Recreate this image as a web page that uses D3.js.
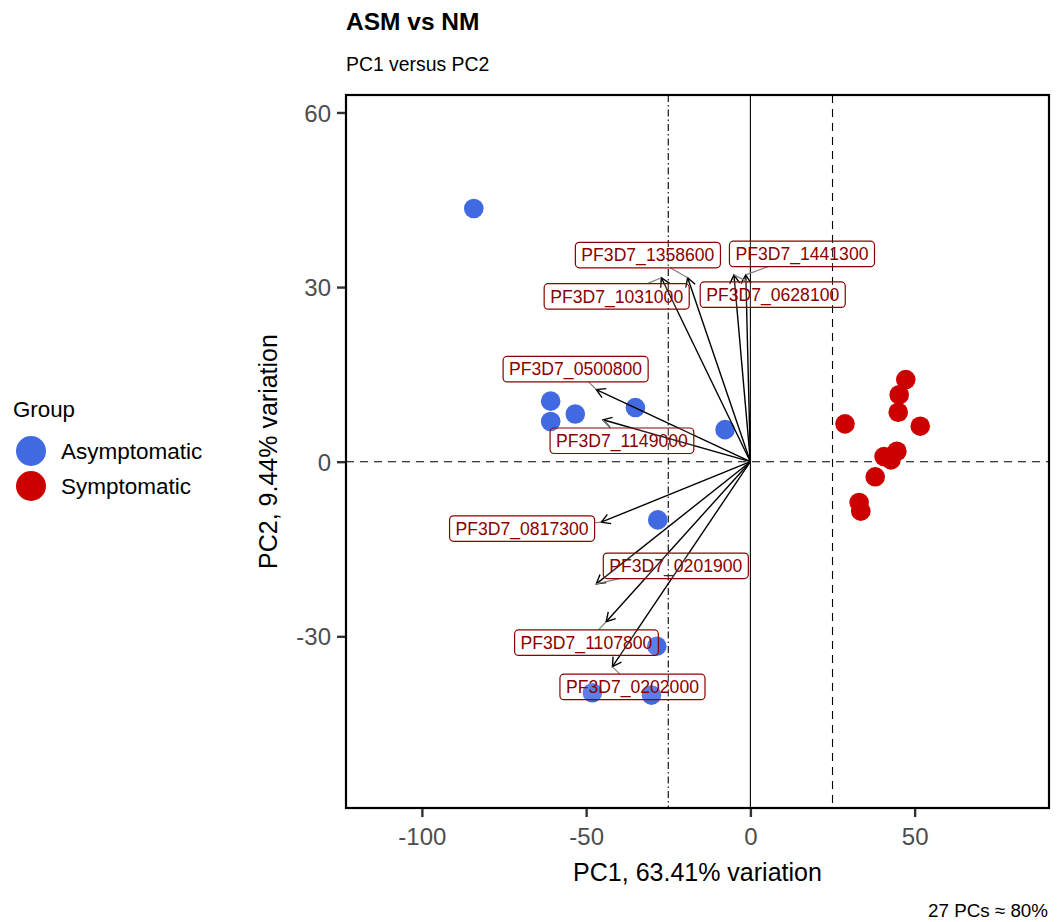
<!DOCTYPE html>
<html>
<head>
<meta charset="utf-8">
<script src="https://cdn.jsdelivr.net/npm/d3@7"></script>
<style>
  body { margin: 0; background: #fff; }
  svg { display: block; font-family: "Liberation Sans", Arial, sans-serif; }
</style>
</head>
<body>
<svg id="chart" width="1058" height="922"></svg>
<script>
// ---------- data ----------
const groups = ["Asymptomatic", "Symptomatic"];
const groupColors = ["#4169E1", "#CD0000"];

const asymPC1 = [-84.2, -60.8, -60.8, -53.3, -35.0, -7.7, -28.2, -28.5, -48.1, -30.1];
const asymPC2 = [43.5, 10.4, 6.9, 8.2, 9.3, 5.5, -10.0, -31.7, -39.7, -40.1];
const symPC1 = [47.3, 45.3, 45.0, 28.8, 51.7, 44.6, 40.7, 42.8, 38.0, 33.1, 33.6];
const symPC2 = [14.1, 11.5, 8.5, 6.5, 6.1, 1.8, 0.9, 0.3, -2.6, -7.0, -8.5];

const loadingNames = ["PF3D7_1358600", "PF3D7_1031000", "PF3D7_1441300", "PF3D7_0628100",
  "PF3D7_0500800", "PF3D7_1149000", "PF3D7_0817300", "PF3D7_0201900",
  "PF3D7_1107800", "PF3D7_0202000"];
const loadingPC1 = [-19.1, -27.1, -1.4, -5.0, -46.9, -44.9, -45.4, -46.9, -43.9, -42.0];
const loadingPC2 = [31.6, 31.6, 32.1, 32.1, 12.4, 7.2, -10.4, -21.0, -27.5, -35.2];
// repelled label centres (data units)
const labelPC1 = [-31.2, -40.7, 15.7, 6.8, -53.2, -39.1, -69.5, -22.7, -49.9, -35.9];
const labelPC2 = [35.5, 28.4, 35.7, 28.7, 15.9, 3.6, -11.5, -17.9, -31.1, -38.7];

const xTicks = [-100, -50, 0, 50];
const yTicks = [-30, 0, 30, 60];
const vLines = [{v: -25, type: "dotdash"}, {v: 0, type: "solid"}, {v: 25, type: "dashed"}];

const titleText = "ASM vs NM";
const subtitleText = "PC1 versus PC2";
const xTitle = "PC1, 63.41% variation";
const yTitle = "PC2, 9.44% variation";
const captionText = "27 PCs \u2248 80%";

// ---------- layout ----------
const svg = d3.select("#chart");
const P = {left: 346, right: 1049, top: 95, bottom: 808};
const x = d3.scaleLinear().domain([-123.1, 90.9]).range([P.left, P.right]);
const y = d3.scaleLinear().domain([63.0, -59.5]).range([P.top, P.bottom]);

const clipId = "panelclip";
svg.append("defs").append("clipPath").attr("id", clipId)
  .append("rect").attr("x", P.left).attr("y", P.top)
  .attr("width", P.right - P.left).attr("height", P.bottom - P.top);

const panel = svg.append("g").attr("clip-path", `url(#${clipId})`);

// reference lines
const dash = {solid: null, dashed: "8 6", dotdash: "7 3 1.5 3"};
panel.selectAll("line.v").data(vLines).enter().append("line")
  .attr("x1", d => x(d.v)).attr("x2", d => x(d.v))
  .attr("y1", P.top).attr("y2", P.bottom)
  .attr("stroke", "#000").attr("stroke-width", 1.1)
  .attr("stroke-dasharray", d => dash[d.type]);
panel.append("line")
  .attr("x1", P.left).attr("x2", P.right).attr("y1", y(0)).attr("y2", y(0))
  .attr("stroke", "#000").attr("stroke-width", 1.1).attr("stroke-dasharray", "8 6");

// points
const pts = [];
asymPC1.forEach((v, i) => pts.push({x: v, y: asymPC2[i], g: 0}));
symPC1.forEach((v, i) => pts.push({x: v, y: symPC2[i], g: 1}));
panel.selectAll("circle.pt").data(pts).enter().append("circle")
  .attr("cx", d => x(d.x)).attr("cy", d => y(d.y)).attr("r", 9.8)
  .attr("fill", d => groupColors[d.g]);

// loadings arrows
const loads = loadingNames.map((n, i) => ({
  name: n, x: loadingPC1[i], y: loadingPC2[i], lx: labelPC1[i], ly: labelPC2[i]
}));
const arrowG = panel.append("g");
loads.forEach(d => {
  const x0 = x(0), y0 = y(0), x1 = x(d.x), y1 = y(d.y);
  arrowG.append("line").attr("x1", x0).attr("y1", y0).attr("x2", x1).attr("y2", y1)
    .attr("stroke", "#000").attr("stroke-width", 1.4);
  const ang = Math.atan2(y1 - y0, x1 - x0);
  const L = 10, a = Math.PI / 6;
  const p1 = [x1 - L * Math.cos(ang - a), y1 - L * Math.sin(ang - a)];
  const p2 = [x1 - L * Math.cos(ang + a), y1 - L * Math.sin(ang + a)];
  arrowG.append("path")
    .attr("d", `M${p1[0]},${p1[1]}L${x1},${y1}L${p2[0]},${p2[1]}`)
    .attr("fill", "none").attr("stroke", "#000").attr("stroke-width", 1.4);
});

// labels
const labG = panel.append("g");
loads.forEach(d => {
  const cx = x(d.lx), cy = y(d.ly);
  const t = labG.append("text").attr("x", cx).attr("y", cy + 6.2)
    .attr("text-anchor", "middle").attr("font-size", 17.6).attr("fill", "#8B0000")
    .text(d.name);
  const w = t.node().getComputedTextLength() + 12, h = 25.5;
  const bx = cx - w / 2, by = cy - h / 2;
  // segment from arrow tip toward label centre, clipped to box
  const tx = x(d.x), ty = y(d.y);
  const dx = cx - tx, dy = cy - ty;
  let tEdge = 1;
  if (dx !== 0) {
    const tt = ((dx > 0 ? bx : bx + w) - tx) / dx;
    if (tt > 0 && tt < tEdge) { const yy = ty + tt * dy; if (yy >= by && yy <= by + h) tEdge = tt; }
  }
  if (dy !== 0) {
    const tt = ((dy > 0 ? by : by + h) - ty) / dy;
    if (tt > 0 && tt < tEdge) { const xx = tx + tt * dx; if (xx >= bx && xx <= bx + w) tEdge = tt; }
  }
  const ex = tx + tEdge * dx, ey = ty + tEdge * dy;
  if (Math.hypot(ex - tx, ey - ty) > 4) {
    labG.insert("line", "text").attr("x1", tx).attr("y1", ty).attr("x2", ex).attr("y2", ey)
      .attr("stroke", "#808080").attr("stroke-width", 1.2);
  }
  labG.insert("rect", "text").attr("x", bx).attr("y", by).attr("width", w).attr("height", h)
    .attr("rx", 4).attr("ry", 4)
    .attr("fill", "#fff").attr("fill-opacity", 0.15)
    .attr("stroke", "#8B0000").attr("stroke-width", 1.2);
  t.raise();
});

// panel border
svg.append("rect").attr("x", P.left).attr("y", P.top)
  .attr("width", P.right - P.left).attr("height", P.bottom - P.top)
  .attr("fill", "none").attr("stroke", "#000").attr("stroke-width", 2.2);

// axes
const xAxis = svg.append("g").attr("transform", `translate(0,${P.bottom + 1})`)
  .call(d3.axisBottom(x).tickValues(xTicks).tickSize(8).tickSizeOuter(0).tickPadding(6)
    .tickFormat(d3.format("d")));
const yAxis = svg.append("g").attr("transform", `translate(${P.left - 1},0)`)
  .call(d3.axisLeft(y).tickValues(yTicks).tickSize(8).tickSizeOuter(0).tickPadding(6)
    .tickFormat(d3.format("d")));
[xAxis, yAxis].forEach(g => {
  g.select(".domain").remove();
  g.selectAll(".tick line").attr("stroke", "#333").attr("stroke-width", 2.4);
  g.selectAll(".tick text").attr("fill", "#4d4d4d").attr("font-size", 24)
    .attr("font-family", "Liberation Sans, Arial, sans-serif");
});
xAxis.selectAll(".tick text").attr("dy", "0.9em");
yAxis.selectAll(".tick text").attr("dy", "0.36em");
// hyphen-minus like R
xAxis.selectAll(".tick text").text(d => String(d));
yAxis.selectAll(".tick text").text(d => String(d));

// titles
svg.append("text").attr("x", P.left).attr("y", 30).attr("font-size", 24.5)
  .attr("font-weight", "bold").text(titleText);
svg.append("text").attr("x", P.left).attr("y", 71).attr("font-size", 19.4).text(subtitleText);
svg.append("text").attr("x", (P.left + P.right) / 2).attr("y", 881)
  .attr("text-anchor", "middle").attr("font-size", 25).text(xTitle);
svg.append("text").attr("transform", `translate(277,${(P.top + P.bottom) / 2}) rotate(-90)`)
  .attr("text-anchor", "middle").attr("font-size", 25).text(yTitle);
svg.append("text").attr("x", 1048).attr("y", 917).attr("text-anchor", "end")
  .attr("font-size", 18.8).text(captionText);

// legend
const leg = svg.append("g");
leg.append("text").attr("x", 13).attr("y", 417).attr("font-size", 22.3).text("Group");
groups.forEach((g, i) => {
  leg.append("circle").attr("cx", 31).attr("cy", 451 + i * 35).attr("r", 15)
    .attr("fill", groupColors[i]);
  leg.append("text").attr("x", 61).attr("y", 458.5 + i * 35).attr("font-size", 22.5).text(g);
});
</script>
</body>
</html>
